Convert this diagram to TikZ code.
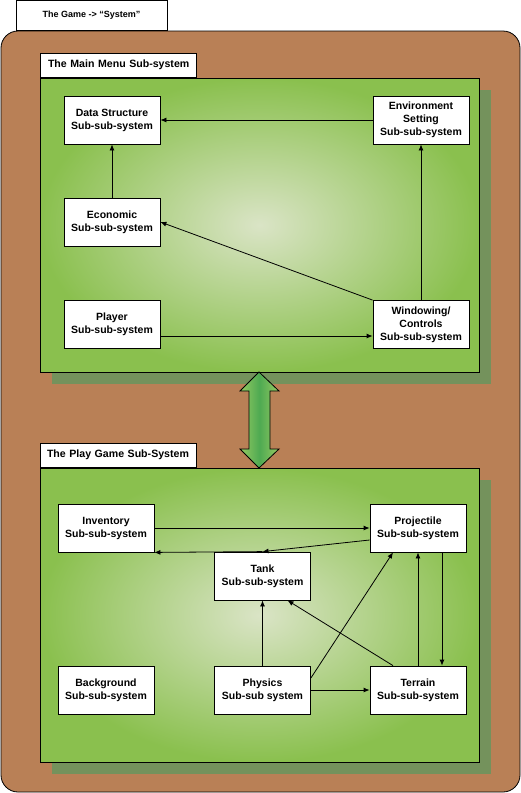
\documentclass[tikz,border=0pt]{standalone}
\usepackage{fontspec}
\setmainfont{Liberation Sans}
\usepackage{tikz}
\usetikzlibrary{shadows,arrows.meta}
\definecolor{gamebrown}{RGB}{185,128,86}
\definecolor{panelgreen}{RGB}{138,192,78}
\definecolor{panelpale}{RGB}{218,228,198}
\definecolor{shadowgreen}{RGB}{116,146,92}
\definecolor{arrowdark}{RGB}{78,170,82}
\definecolor{arrowlight}{RGB}{150,202,98}
\tikzstyle{SubSub}=[rectangle, minimum width=96, minimum height=48, inner sep=1, align=center, draw=black, fill=white, line width=0.8, font=\fontsize{10.5}{13}\selectfont\bfseries]
\tikzstyle{Panel}=[rectangle, minimum width=439, minimum height=294, draw=black, line width=0.8, inner color=panelpale, outer color=panelgreen, drop shadow={shadow xshift=12pt, shadow yshift=-12pt, fill=shadowgreen, opacity=1}]
\tikzstyle{Label}=[rectangle, minimum width=156, minimum height=24, text width=156, inner xsep=0, align=left, anchor=south west, draw=black, fill=white, line width=0.8, font=\fontsize{10.6}{13}\selectfont\bfseries]
\tikzstyle{Link}=[-{Latex[length=6pt,width=5pt]}, line width=0.8]

\begin{document}
\begin{tikzpicture}[x=1pt, y=-1pt]
    \useasboundingbox (0,0) rectangle (521,793);
    \draw[fill=gamebrown, line width=0.8, rounded corners=17] (1,31) rectangle (520,792);
    \path (91.5,15.5) node[rectangle, minimum width=151, minimum height=30, draw=black, fill=white, line width=0.8, font=\fontsize{9}{11}\selectfont\bfseries] (game) {The Game -> “System”};

    % the two sub-systems
    \path
    (259.5,225) node[Panel] (menu) {}
    (259.5,615) node[Panel] (play) {};
    \path
    (menu.north west) node[Label] (menulabel) {\hspace*{8pt}The Main Menu Sub-system}
    (play.north west) node[Label] (playlabel) {\hspace*{7pt}The Play Game Sub-System};

    \draw[line width=0.8, left color=arrowlight, right color=arrowlight, middle color=arrowdark]
    (259,372) -- (279,391) -- (270,391) -- (270,449) -- (279,449) -- (259,468)
    -- (240,449) -- (249,449) -- (249,391) -- (240,391) -- cycle;

    % main menu
    \path
    (112,120) node[SubSub] (data) {Data Structure\\Sub-sub-system}
    (421,120) node[SubSub] (env) {Environment\\Setting\\Sub-sub-system}
    (112,222) node[SubSub] (eco) {Economic\\Sub-sub-system}
    (112,324.5) node[SubSub] (player) {Player\\Sub-sub-system}
    (421,324.5) node[SubSub] (win) {Windowing/\\Controls\\Sub-sub-system};

    \draw[Link] (env) -- (data);
    \draw[Link] (eco) -- (data);
    \draw[Link] (win.north west) -- (eco.east);
    \draw[Link] (win) -- (env);
    \draw[Link] ([yshift=-11.5pt]player.east) -- ([yshift=-11.5pt]win.west);

    % play game
    \path
    (106,528) node[SubSub] (inv) {Inventory\\Sub-sub-system}
    (418,528) node[SubSub] (proj) {Projectile\\Sub-sub-system}
    (262.5,576) node[SubSub] (tank) {Tank\\Sub-sub-system}
    (106,690) node[SubSub] (back) {Background\\Sub-sub-system}
    (262.5,690) node[SubSub] (phys) {Physics\\Sub-sub system}
    (418,690) node[SubSub] (ter) {Terrain\\Sub-sub-system};

    \draw[Link] (inv) -- (proj);
    \draw[Link] ([yshift=-12pt]proj.west) -- (tank.north);
    \draw[Link] (tank.north) -- (inv.south east);
    \draw[Link] (phys) -- (tank);
    \draw[Link] ([yshift=12pt]phys.east) -- ([xshift=-25pt]proj.south);
    \draw[Link] ([xshift=-25pt]ter.north) -- ([xshift=25pt]tank.south);
    \draw[Link] (ter) -- (proj);
    \draw[Link] ([xshift=24pt]proj.south) -- ([xshift=24pt]ter.north);
    \draw[Link] (phys) -- (ter);
\end{tikzpicture}
\end{document}
